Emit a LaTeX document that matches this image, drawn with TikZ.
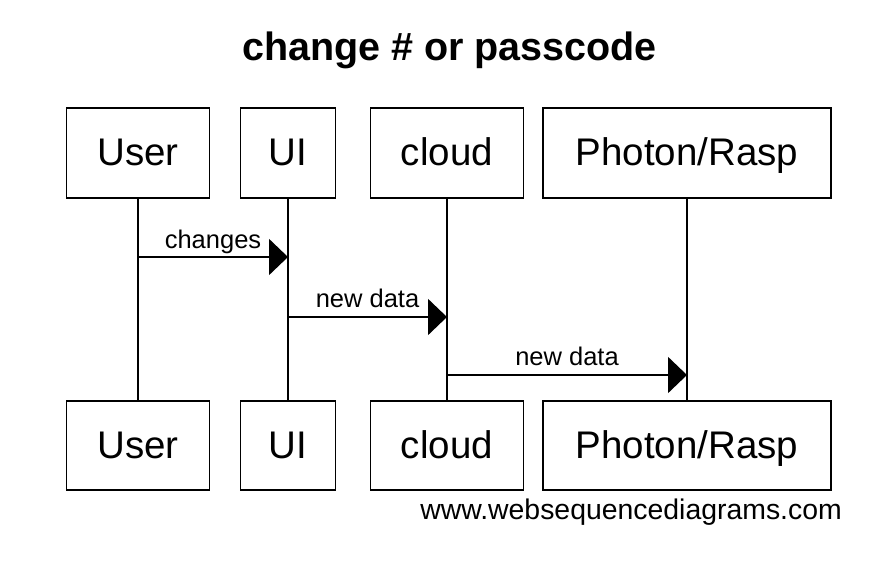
\documentclass[tikz,border=0pt]{standalone}
\usepackage{fontspec}
\setmainfont{Liberation Sans}
\usetikzlibrary{arrows.meta,calc}
\begin{document}
\begin{tikzpicture}[x=1pt,y=-1pt,
  actor/.style={draw=black, line width=1.7pt, inner sep=0pt, minimum height=90pt,
    font=\fontsize{38.5}{42}\selectfont, text height=32pt, text depth=7pt},
  lifeline/.style={draw=black, line width=1.7pt},
  msg/.style={draw=black, line width=1.7pt, -{Triangle[length=19pt,width=36pt]}},
  msglabel/.style={anchor=base, inner sep=0pt, font=\fontsize{25.5}{28}\selectfont}
]
\useasboundingbox (0,0) rectangle (882,562);
\fill[white] (0,0) rectangle (882,562);
\node[anchor=base, inner sep=0pt, font=\fontsize{39.5}{44}\selectfont\bfseries] (title) at (449.5,60) {change \# or passcode};
% top actors
\node[actor, minimum width=143pt] (ut) at (138,153) {User};
\node[actor, minimum width=95pt] (it) at (288,153) {UI};
\node[actor, minimum width=153pt] (ct) at (447,153) {cloud};
\node[actor, minimum width=288pt] (pt) at (687,153) {Photon/Rasp};
% bottom actors
\node[actor, minimum width=143pt, minimum height=89pt] (ub) at (138,445.5) {User};
\node[actor, minimum width=95pt, minimum height=89pt] (ib) at (288,445.5) {UI};
\node[actor, minimum width=153pt, minimum height=89pt] (cb) at (447,445.5) {cloud};
\node[actor, minimum width=288pt, minimum height=89pt] (pb) at (687,445.5) {Photon/Rasp};
% lifelines
\draw[lifeline] (ut.south) -- (ub.north);
\draw[lifeline] (it.south) -- (ib.north);
\draw[lifeline] (ct.south) -- (cb.north);
\draw[lifeline] (pt.south) -- (pb.north);
% message endpoints
\coordinate (m1s) at (ut.south |- 0,257);
\coordinate (m1e) at (it.south |- 0,257);
\coordinate (m2s) at (it.south |- 0,317);
\coordinate (m2e) at (ct.south |- 0,317);
\coordinate (m3s) at (ct.south |- 0,375);
\coordinate (m3e) at (pt.south |- 0,375);
\draw[msg] (m1s) -- (m1e);
\draw[msg] (m2s) -- (m2e);
\draw[msg] (m3s) -- (m3e);
\node[msglabel] (l1) at ($(m1s)!0.5!(m1e)+(0,-9)$) {changes};
\node[msglabel] (l2) at ($(m2s)!0.5!(m2e)+(0,-10)$) {new data};
\node[msglabel] (l3) at ($(m3s)!0.5!(m3e)+(0,-10)$) {new data};
\node[anchor=base east, inner sep=0pt, font=\fontsize{28.4}{31}\selectfont] (wm) at (842,519) {www.websequencediagrams.com};
\end{tikzpicture}
\end{document}
